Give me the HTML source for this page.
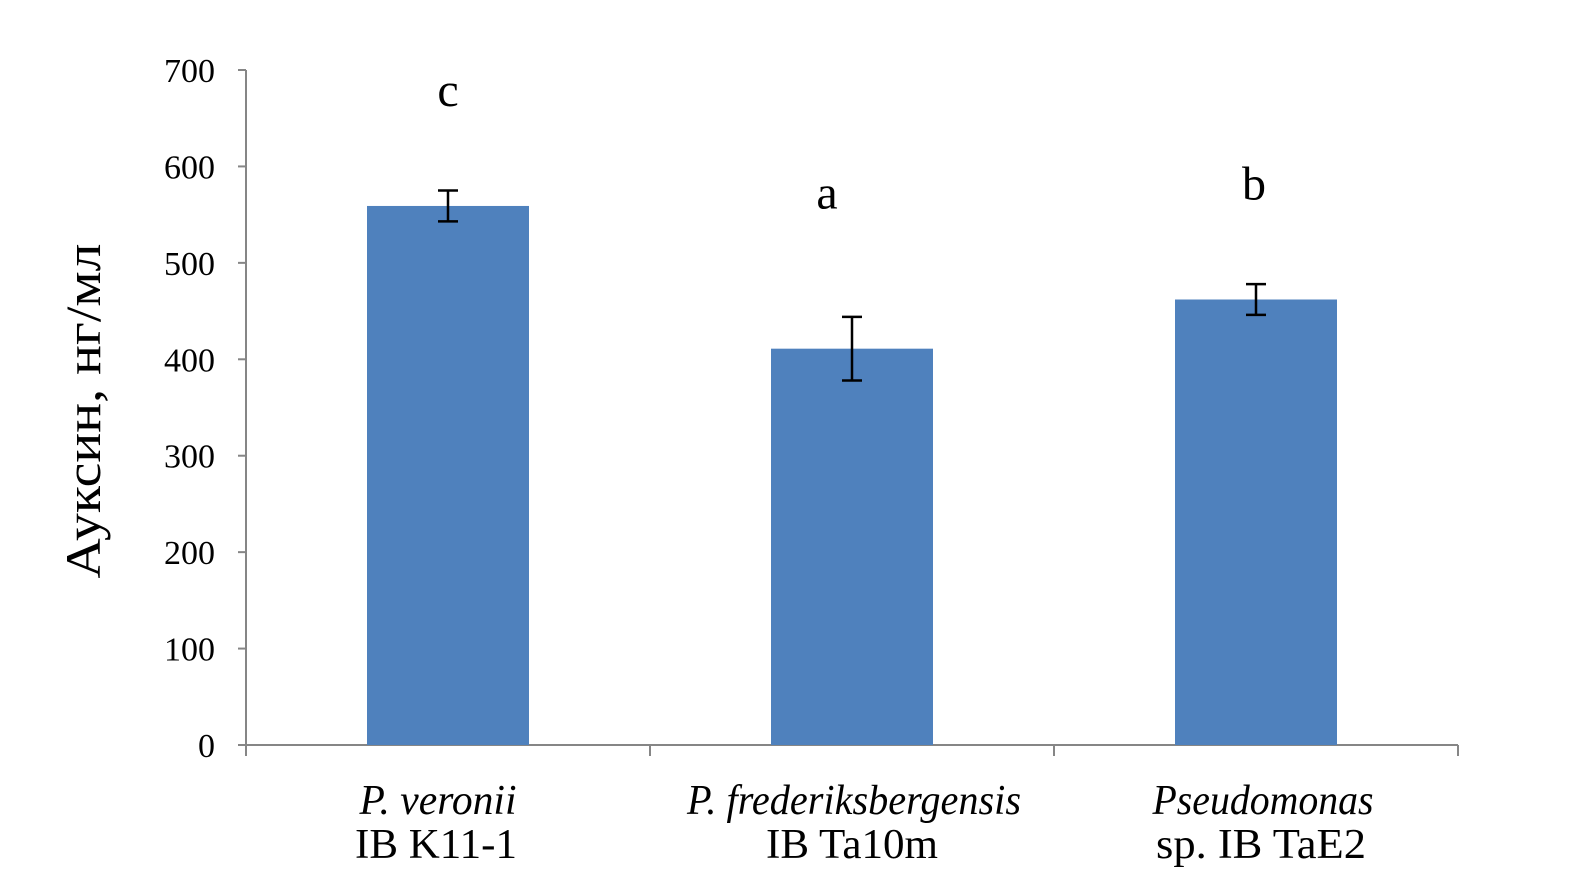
<!DOCTYPE html>
<html><head><meta charset="utf-8"><style>
html,body{margin:0;padding:0;background:#fff;}
svg text{font-family:"Liberation Serif",serif;fill:#000;}
</style></head><body>
<svg id="chart" width="1587" height="885" viewBox="0 0 1587 885" xmlns="http://www.w3.org/2000/svg"></svg>
<script>
const categoriesItalic=["P. veronii","P. frederiksbergensis","Pseudomonas"];
const categoriesPlain=["IB K11-1","IB Ta10m","sp. IB TaE2"];
const values=[559,411,462];
const errors=[16,33,16];
const letters=["c","a","b"];
const yTicks=[0,100,200,300,400,500,600,700];

const svg=document.getElementById('chart');
const NS="http://www.w3.org/2000/svg";
const x0=246,x1=1458,y0=745,y700=70;
const yS=v=>y0-(v/700)*(y0-y700);
const band=(x1-x0)/categoriesItalic.length;
const xC=i=>x0+band*(i+0.5);
function mk(t,a,txt){const e=document.createElementNS(NS,t);for(const k in a)e.setAttribute(k,a[k]);if(txt!==undefined)e.textContent=txt;svg.appendChild(e);return e;}

let e=mk('line',{x1:x0,y1:y700,x2:x0,y2:y0,stroke:'#868686','stroke-width':2});


e=mk('line',{x1:x0,y1:y0,x2:x1,y2:y0,stroke:'#868686','stroke-width':2});


yTicks.forEach(v=>{
  const y=yS(v);
  let t=mk('line',{x1:x0-8,y1:y,x2:x0,y2:y,stroke:'#868686','stroke-width':2});
  
  
  let l=mk('text',{x:x0-31,y:y+12,'text-anchor':'end','font-size':34},String(v));
  
  
});
for(let i=0;i<=categoriesItalic.length;i++){
  const x=x0+band*i;
  let t=mk('line',{x1:x,y1:y0,x2:x,y2:y0+11,stroke:'#868686','stroke-width':2});
  
  
}
const bw=162;
const letterDx=[0,-25,-2];
const letterGap=[100,140,100];
const labelDx=[-10,2,7];
const itW=[157,334,221];
const plW=[162,172,210];
values.forEach((v,i)=>{
  const cx=xC(i);
  let b=mk('rect',{x:cx-bw/2,y:yS(v),width:bw,height:y0-yS(v),fill:'#4f81bd'});
  
  
  const yt=yS(v+errors[i]),yb=yS(v-errors[i]);
  let g=mk('path',{d:`M${cx},${yt}V${yb}M${cx-10},${yt}H${cx+10}M${cx-10},${yb}H${cx+10}`,stroke:'#000','stroke-width':2.5,fill:'none'});
  
  
  let l=mk('text',{x:cx+letterDx[i],y:yS(v)-letterGap[i],'text-anchor':'middle','font-size':48},letters[i]);
  
  
  let c1=mk('text',{x:cx+labelDx[i],y:814,'text-anchor':'middle','font-size':42,'font-style':'italic',textLength:itW[i],lengthAdjust:'spacingAndGlyphs'},categoriesItalic[i]);
  
  
  let c2=mk('text',{x:cx+labelDx[i]-2,y:858,'text-anchor':'middle','font-size':42,textLength:plW[i],lengthAdjust:'spacingAndGlyphs'},categoriesPlain[i]);
  
  
});
let yt=mk('text',{x:0,y:0,'text-anchor':'middle','font-size':50,textLength:335,lengthAdjust:'spacingAndGlyphs',transform:'translate(100,411) rotate(-90)'},'Ауксин, нг/мл');


</script>
</body></html>
